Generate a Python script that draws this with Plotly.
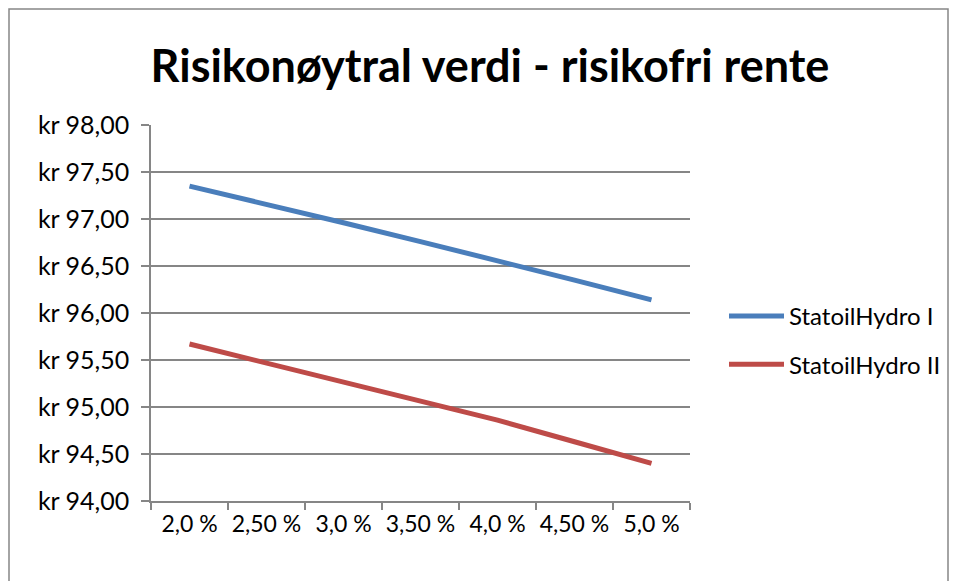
import plotly.graph_objects as go

categories = ["2,0 %", "2,50 %", "3,0 %", "3,50 %", "4,0 %", "4,50 %", "5,0 %"]
statoil_1 = [97.35, 97.16, 96.96, 96.76, 96.56, 96.35, 96.14]
statoil_2 = [95.67, 95.47, 95.27, 95.07, 94.86, 94.63, 94.40]
y_ticks = [94.0, 94.5, 95.0, 95.5, 96.0, 96.5, 97.0, 97.5, 98.0]
y_tick_labels = ["kr 94,00", "kr 94,50", "kr 95,00", "kr 95,50", "kr 96,00",
                 "kr 96,50", "kr 97,00", "kr 97,50", "kr 98,00"]

FONT = "Lato, 'Open Sans', sans-serif"
W, H = 957, 581
L, R, T, B = 151, 267, 125, 80
pw, ph = W - L - R, H - T - B

fig = go.Figure()
fig.add_trace(go.Scatter(x=categories, y=statoil_1, mode="lines", name="StatoilHydro I",
                         legendgroup="a", line=dict(color="#4A7EBB", width=5)))
fig.add_trace(go.Scatter(x=categories, y=statoil_2, mode="lines", name="StatoilHydro II",
                         legendgroup="b", line=dict(color="#BE4B48", width=5)))

def px_x(p):
    return (p - L) / pw

def px_y(p):
    return (H - B - p) / ph

fig.add_shape(type="rect", xref="paper", yref="paper",
              x0=px_x(9), x1=px_x(948), y0=px_y(600), y1=px_y(9),
              line=dict(color="#868686", width=1.5), fillcolor="rgba(0,0,0,0)", layer="below")

fig.update_layout(
    width=W, height=H,
    margin=dict(l=L, r=R, t=T, b=B, autoexpand=False),
    paper_bgcolor="white", plot_bgcolor="white",
    font=dict(family=FONT, size=24, color="black"),
    title=dict(text="<b>Risikonøytral verdi - risikofri rente</b>",
               x=490 / W, xanchor="center", y=1 - 66 / H, yanchor="middle",
               font=dict(family=FONT, size=45, color="black")),
    xaxis=dict(type="category", range=[-0.5, 6.5], tickson="boundaries",
               ticks="outside", ticklen=7, tickangle=0, automargin=False,
               tickcolor="#868686", tickwidth=1.5, showline=True, linecolor="#868686",
               linewidth=1.5, showgrid=False, tickfont=dict(size=23),
               ticklabelstandoff=2),
    yaxis=dict(range=[94, 98], tickvals=y_ticks, ticktext=y_tick_labels,
               ticks="outside", ticklen=8, tickcolor="#868686", tickwidth=1.5,
               showline=True, linecolor="#868686", linewidth=1.5, automargin=False,
               showgrid=True, gridcolor="#868686", gridwidth=1.5,
               zeroline=False, tickfont=dict(size=25), ticklabelstandoff=7),
    legend=dict(x=px_x(724), y=px_y(294), xanchor="left", yanchor="top",
                font=dict(size=24), tracegroupgap=14, itemwidth=55,
                bgcolor="rgba(0,0,0,0)"),
    showlegend=True,
)

fig.write_html("out.html", config={"displayModeBar": False},
               post_script="document.body.style.margin='0';")
